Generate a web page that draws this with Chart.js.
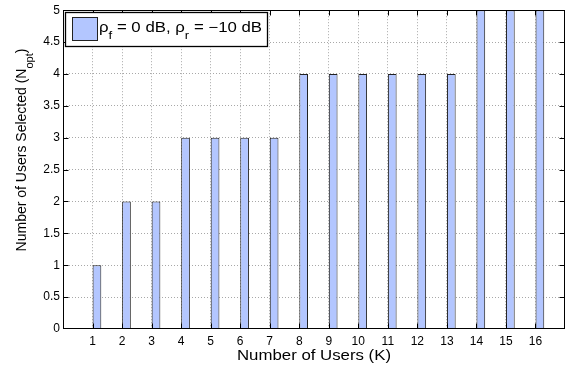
<!DOCTYPE html>
<html>
<head>
<meta charset="utf-8">
<script src="https://cdn.jsdelivr.net/npm/chart.js@4.4.0/dist/chart.umd.min.js"></script>
<style>
  html, body { margin: 0; padding: 0; background: #fff; }
  #wrap { width: 570px; height: 369px; }
</style>
</head>
<body>
<div id="wrap"><canvas id="usersChart" width="570" height="369"></canvas></div>
<script>
// Values
const users = [1, 2, 3, 4, 5, 6, 7, 8, 9, 10, 11, 12, 13, 14, 15, 16];
const usersSelected = [1, 2, 2, 3, 3, 3, 3, 4, 4, 4, 4, 4, 4, 5, 5, 5];
const xLimits = [0, 17];
const yLimits = [0, 5];
const yStep = 0.5;

// Text pieces ({t: text, sub: is subscript})
const legendParts = [
    { t: 'ρ' }, { t: 'f', sub: true }, { t: ' = 0 dB, ρ' }, { t: 'r', sub: true }, { t: ' = −10 dB' }
];
const xTitleParts = [{ t: 'Number of Users (K)' }];
const yTitleParts = [{ t: 'Number of Users Selected (N' }, { t: 'opt', sub: true }, { t: ')' }];

const FONT = "'Liberation Sans', Arial, Helvetica, sans-serif";
const STRETCH = 1.2; // the figure text is a bit wide
const barFill = '#b3c6ff';
const barEdge = '#222';

Chart.defaults.font.family = FONT;
Chart.defaults.color = '#000';

// Draw a line of text made of normal and subscript pieces
function drawParts(ctx, parts, x, y, align) {
    let total = 0;
    parts.forEach(p => {
        ctx.font = (p.sub ? 11 : 14) + 'px ' + FONT;
        p.w = ctx.measureText(p.t).width;
        total += p.w;
    });
    let cx = align === 'center' ? x - total / 2 : x;
    parts.forEach(p => {
        ctx.font = (p.sub ? 11 : 14) + 'px ' + FONT;
        ctx.fillText(p.t, cx, y + (p.sub ? 7 : 0));
        cx += p.w;
    });
    return total;
}

// Axes box, inside tick marks, titles and legend
const decorPlugin = {
    id: 'decor',
    afterDraw(chart) {
        const ctx = chart.ctx;
        const area = chart.chartArea;
        const xs = chart.scales.x;
        const ys = chart.scales.y;
        const left = Math.floor(area.left) + 0.5;
        const right = Math.ceil(area.right) - 0.5;
        const top = Math.floor(area.top) + 0.5;
        const bottom = Math.ceil(area.bottom) - 0.5;

        ctx.save();
        ctx.strokeStyle = '#000';
        ctx.lineWidth = 1;
        ctx.beginPath();
        users.forEach(k => {
            const px = Math.round(xs.getPixelForValue(k)) + 0.5;
            ctx.moveTo(px, bottom); ctx.lineTo(px, bottom - 5);
            ctx.moveTo(px, top); ctx.lineTo(px, top + 5);
        });
        ys.ticks.forEach(t => {
            if (t.value <= yLimits[0] || t.value >= yLimits[1]) return;
            const py = Math.round(ys.getPixelForValue(t.value)) + 0.5;
            ctx.moveTo(left, py); ctx.lineTo(left + 5, py);
            ctx.moveTo(right, py); ctx.lineTo(right - 5, py);
        });
        ctx.stroke();
        ctx.strokeRect(left, top, right - left, bottom - top);

        ctx.fillStyle = '#000';
        ctx.textBaseline = 'alphabetic';
        ctx.textAlign = 'left';

        // x title
        ctx.save();
        ctx.translate((area.left + area.right) / 2, 360);
        ctx.scale(STRETCH, 1);
        drawParts(ctx, xTitleParts, 0, 0, 'center');
        ctx.restore();

        // y title
        ctx.save();
        ctx.translate(26, 150);
        ctx.rotate(-Math.PI / 2);
        drawParts(ctx, yTitleParts, 0, 0, 'center');
        ctx.restore();

        // legend
        ctx.fillStyle = '#fff';
        ctx.fillRect(65.5, 12.5, 202, 34);
        ctx.lineWidth = 1.3;
        ctx.strokeRect(65.5, 12.5, 202, 34);
        ctx.fillStyle = barFill;
        ctx.fillRect(72.5, 17.5, 25, 23);
        ctx.lineWidth = 1;
        ctx.strokeStyle = barEdge;
        ctx.strokeRect(72.5, 17.5, 25, 23);
        ctx.fillStyle = '#000';
        ctx.save();
        ctx.translate(99, 31.5);
        ctx.scale(STRETCH, 1);
        drawParts(ctx, legendParts, 0, 0, 'left');
        ctx.restore();

        ctx.restore();
    }
};

const gridColor = (lo, hi) => (c) =>
    (c.tick && c.tick.value > lo && c.tick.value < hi) ? '#a8a8a8' : 'rgba(0,0,0,0)';

const chart = new Chart(document.getElementById('usersChart'), {
    type: 'bar',
    data: {
        datasets: [
            // empty first slot of the bar group, so bars sit right of each tick
            { label: 'slot', data: [] },
            {
                label: 'selected',
                data: users.map((k, i) => ({ x: k, y: usersSelected[i] })),
                backgroundColor: barFill,
                borderColor: barEdge,
                borderWidth: 1,
                categoryPercentage: 0.6,
                barPercentage: 0.98
            }
        ]
    },
    options: {
        responsive: false,
        animation: false,
        layout: { padding: { top: 9, right: 2, left: 0, bottom: 0 } },
        plugins: {
            legend: { display: false },
            tooltip: { enabled: false }
        },
        scales: {
            x: {
                type: 'linear',
                offset: false,
                min: xLimits[0],
                max: xLimits[1],
                grid: { offset: false, drawTicks: false, color: gridColor(xLimits[0], xLimits[1]), lineWidth: 1 },
                border: { display: false, dash: [1, 2] },
                ticks: {
                    stepSize: 1,
                    autoSkip: false,
                    maxRotation: 0,
                    padding: 5,
                    font: { size: 12 },
                    callback: v => (v > xLimits[0] && v < xLimits[1]) ? String(v) : ''
                },
                afterFit: s => { s.height = 40; }
            },
            y: {
                min: yLimits[0],
                max: yLimits[1],
                grid: { drawTicks: false, color: gridColor(yLimits[0], yLimits[1]), lineWidth: 1 },
                border: { display: false, dash: [1, 2] },
                ticks: {
                    stepSize: yStep,
                    padding: 3,
                    font: { size: 12 },
                    callback: v => String(v)
                },
                afterFit: s => { s.width = 63; }
            }
        }
    },
    plugins: [decorPlugin]
});
</script>
</body>
</html>
